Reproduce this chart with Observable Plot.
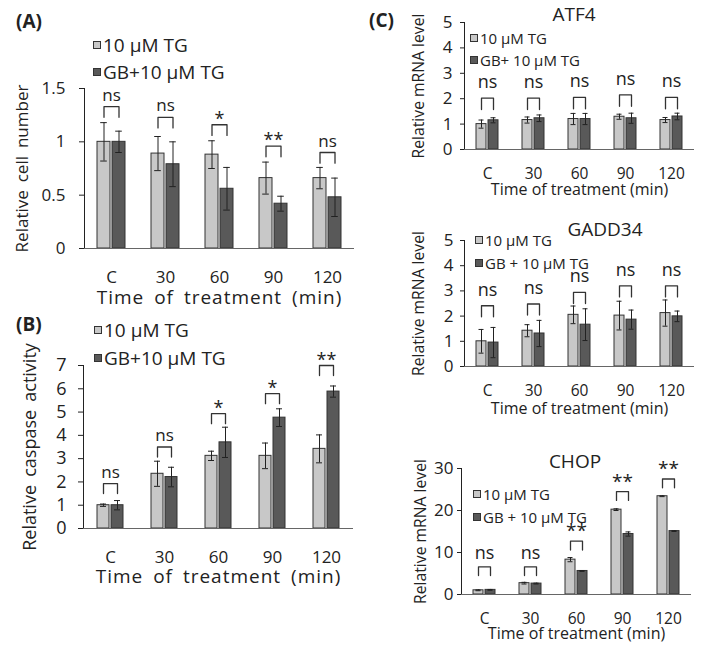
<!DOCTYPE html>
<html>
<head>
<meta charset="utf-8">
<script src="https://cdn.jsdelivr.net/npm/d3@7"></script>
<script src="https://cdn.jsdelivr.net/npm/@observablehq/plot@0.6"></script>
<style>
  body { margin: 0; background: #fff; }
  #fig { position: relative; width: 709px; height: 645px; background: #fff; font-family: 'Open Sans', sans-serif; color: #222; overflow: hidden; }
  .panel { position: absolute; }
  .panel svg { overflow: visible; }
  .txt { position: absolute; white-space: nowrap; line-height: 1.2; }
  .leg { position: absolute; display: flex; align-items: center; white-space: nowrap; line-height: 1.2; }
  .sw { display: inline-block; width: 8px; height: 8px; border: 1px solid #333; box-sizing: border-box; margin-right: 2px; }
  .pab g[aria-label="y-axis tick label"] text { font-size: 17px; }
  .pab g[aria-label="fx-axis tick label"] text { font-size: 17px; }
  .pab g[aria-label="fx-axis label"] text { font-size: 19px; letter-spacing: 1px; word-spacing: 4px; }
  #pA g[aria-label="y-axis label"] text { font-size: 17px; word-spacing: 3.5px; }
  #pB g[aria-label="y-axis label"] text { font-size: 18px; word-spacing: 3.5px; }
  #pB g[aria-label="y-axis tick label"] text { font-size: 18px; }
  .pc g[aria-label="y-axis tick label"] text { font-size: 17px; }
  .pc g[aria-label="fx-axis tick label"] text { font-size: 15.5px; }
  .pc g[aria-label="fx-axis label"] text { font-size: 16px; }
  .pc g[aria-label="y-axis label"] text { font-size: 15.7px; }
</style>
</head>
<body>
<div id="fig"></div>
<script>
// ---------- shared ----------
const times = ["C", "30", "60", "90", "120"];
const xTitle = "Time of treatment (min)";

// ---------- Panel A: relative cell number ----------
const seriesA = ["10 μM TG", "GB+10 μM TG"];
const tgA = [1.00, 0.89, 0.88, 0.66, 0.66];
const tgErrA = [0.18, 0.16, 0.13, 0.15, 0.10];
const gbA = [1.00, 0.79, 0.56, 0.42, 0.48];
const gbErrA = [0.10, 0.21, 0.20, 0.07, 0.18];
const sigA = ["ns", "ns", "*", "**", "ns"];
const bracketA = [1.33, 1.23, 1.16, 0.96, 0.90];
const yTicksA = [0, 0.5, 1, 1.5];

// ---------- Panel B: relative caspase activity ----------
const seriesB = ["10 μM TG", "GB+10 μM TG"];
const tgB = [1.00, 2.35, 3.12, 3.12, 3.42];
const tgErrB = [0.05, 0.54, 0.20, 0.55, 0.60];
const gbB = [1.00, 2.21, 3.70, 4.76, 5.88];
const gbErrB = [0.20, 0.42, 0.65, 0.38, 0.24];
const sigB = ["ns", "ns", "*", "*", "**"];
const bracketB = [1.93, 3.50, 4.93, 5.79, 7.00];
const yTicksB = [0, 1, 2, 3, 4, 5, 6, 7];

// ---------- Panel C1: ATF4 ----------
const seriesC1 = ["10 μM TG", "GB+ 10 μM TG"];
const tgC1 = [1.00, 1.16, 1.20, 1.29, 1.16];
const tgErrC1 = [0.16, 0.12, 0.22, 0.10, 0.10];
const gbC1 = [1.15, 1.23, 1.20, 1.23, 1.30];
const gbErrC1 = [0.10, 0.13, 0.22, 0.20, 0.13];
const sigC1 = ["ns", "ns", "ns", "ns", "ns"];
const bracketC1 = [2.02, 2.02, 2.05, 2.15, 2.05];
const yTicksC1 = [0, 1, 2, 3, 4, 5];

// ---------- Panel C2: GADD34 ----------
const seriesC2 = ["10 μM TG", "GB + 10 μM TG"];
const tgC2 = [1.00, 1.42, 2.05, 2.02, 2.12];
const tgErrC2 = [0.47, 0.24, 0.35, 0.57, 0.52];
const gbC2 = [0.95, 1.31, 1.66, 1.86, 1.99];
const gbErrC2 = [0.60, 0.52, 0.63, 0.38, 0.21];
const sigC2 = ["ns", "ns", "ns", "ns", "ns"];
const bracketC2 = [2.41, 2.48, 2.94, 3.20, 3.20];
const yTicksC2 = [0, 1, 2, 3, 4, 5];

// ---------- Panel C3: CHOP ----------
const seriesC3 = ["10 μM TG", "GB + 10 μM TG"];
const tgC3 = [1.0, 2.7, 8.3, 20.2, 23.4];
const tgErrC3 = [0.1, 0.2, 0.5, 0.2, 0.1];
const gbC3 = [1.1, 2.6, 5.6, 14.4, 15.1];
const gbErrC3 = [0.1, 0.1, 0.1, 0.5, 0.1];
const sigC3 = ["ns", "ns", "**", "**", "**"];
const bracketC3 = [6.6, 6.6, 12.7, 24.5, 27.5];
const yTicksC3 = [0, 10, 20, 30];

const fillColors = ["#c8c8c8", "#595959"];
const fig = document.getElementById("fig");

function addText(str, x, y, size, opts = {}) {
  const d = document.createElement("div");
  d.className = "txt";
  d.textContent = str;
  d.style.fontSize = size + "px";
  d.style.left = x + "px";
  d.style.top = (y - 0.63 * size) + "px";
  if (opts.weight) d.style.fontWeight = opts.weight;
  if (opts.center) d.style.transform = "translateX(-50%)";
  fig.appendChild(d);
}

function addLegend(series, x, ys, size) {
  series.forEach((s, i) => {
    const d = document.createElement("div");
    d.className = "leg";
    d.style.left = x + "px";
    d.style.top = (ys[i] - 0.6 * size) + "px";
    d.style.fontSize = size + "px";
    const sw = document.createElement("span");
    sw.className = "sw";
    sw.style.background = fillColors[i];
    d.appendChild(sw);
    d.appendChild(document.createTextNode(s));
    fig.appendChild(d);
  });
}

function panel(o) {
  const rows = [];
  times.forEach((t, i) => {
    rows.push({time: t, series: o.series[0], value: o.v0[i], err: o.e0[i]});
    rows.push({time: t, series: o.series[1], value: o.v1[i], err: o.e1[i]});
  });
  const br = [];
  times.forEach((t, i) => {
    const top = o.bracket[i], low = top - o.leg;
    br.push({time: t, series: o.series[0], y: low});
    br.push({time: t, series: o.series[0], y: top});
    br.push({time: t, series: o.series[1], y: top});
    br.push({time: t, series: o.series[1], y: low});
  });
  const sig = times.map((t, i) => ({time: t, y: o.bracket[i], label: o.sig[i]}));
  const chart = Plot.plot({
    width: o.width, height: o.height,
    marginLeft: o.mL, marginRight: o.mR, marginTop: o.mT, marginBottom: o.mB,
    style: {fontFamily: "'Open Sans', sans-serif", fontSize: "17px", color: "#222", background: "transparent", overflow: "visible"},
    fx: {domain: times, padding: 0, axis: "bottom", tickSize: 0, tickPadding: o.fxPad,
         label: xTitle, labelAnchor: "center", labelOffset: o.fxLabelOffset, labelArrow: "none"},
    x: {domain: o.series, axis: null, paddingInner: o.pi, paddingOuter: o.po},
    y: {domain: o.yDomain, ticks: o.yTicks, tickFormat: d => String(d), tickSize: o.tickSize, tickPadding: o.tickPadding,
        line: true, label: o.yLabel, labelAnchor: "center", labelOffset: o.yLabelOffset, labelArrow: "none"},
    color: {domain: o.series, range: fillColors},
    marks: [
      Plot.barY(rows, {fx: "time", x: "series", y: "value", fill: "series", stroke: "#333", strokeWidth: 1}),
      Plot.ruleY([0], {stroke: "#666"}),
      Plot.ruleX(rows, {fx: "time", x: "series", y1: d => d.value - d.err, y2: d => d.value + d.err, stroke: "#222", strokeWidth: 1}),
      Plot.tickY(rows, {fx: "time", x: "series", y: d => d.value + d.err, stroke: "#222", insetLeft: o.cap, insetRight: o.cap}),
      Plot.tickY(rows, {fx: "time", x: "series", y: d => d.value - d.err, stroke: "#222", insetLeft: o.cap, insetRight: o.cap}),
      Plot.line(br, {fx: "time", x: "series", y: "y", z: "time", stroke: "#333", strokeWidth: 1.3, strokeLinejoin: "round"}),
      Plot.text(sig.filter(d => d.label === "ns"), {fx: "time", y: "y", text: "label", lineAnchor: "bottom", dy: o.nsDy, fontSize: o.sigSize, fill: "#222"}),
      Plot.text(sig.filter(d => d.label !== "ns"), {fx: "time", y: "y", text: "label", lineAnchor: "bottom", dy: o.starDy, fontSize: o.sigSize + 1, fill: "#222"})
    ]
  });
  const holder = document.createElement("div");
  holder.className = "panel " + o.cls;
  holder.id = o.id;
  holder.style.left = o.left + "px";
  holder.style.top = o.top + "px";
  holder.style.width = o.width + "px";
  holder.style.height = o.height + "px";
  holder.appendChild(chart);
  fig.appendChild(holder);
}

panel({id: "pA", cls: "pab", left: 0, top: 0, width: 360, height: 312, mL: 84, mR: 6, mT: 88, mB: 64,
  series: seriesA, v0: tgA, e0: tgErrA, v1: gbA, e1: gbErrA, sig: sigA, bracket: bracketA, leg: 0.1,
  yDomain: [0, 1.5], yTicks: yTicksA, tickSize: 5, tickPadding: 14, yLabel: "Relative cell number", yLabelOffset: 69,
  fxPad: 22, fxLabelOffset: 55, pi: 0.13, po: 0.86, cap: 3.2, sigSize: 17, nsDy: -6, starDy: 0});

panel({id: "pB", cls: "pab", left: 0, top: 312, width: 360, height: 333, mL: 82, mR: 7, mT: 53, mB: 117,
  series: seriesB, v0: tgB, e0: tgErrB, v1: gbB, e1: gbErrB, sig: sigB, bracket: bracketB, leg: 0.43,
  yDomain: [0, 7], yTicks: yTicksB, tickSize: 5, tickPadding: 12, yLabel: "Relative caspase activity", yLabelOffset: 60,
  fxPad: 22, fxLabelOffset: 54, pi: 0.15, po: 0.9, cap: 3, sigSize: 17, nsDy: -6, starDy: 0});

panel({id: "pC1", cls: "pc", left: 360, top: 0, width: 349, height: 200, mL: 102, mR: 14, mT: 22, mB: 51,
  series: seriesC1, v0: tgC1, e0: tgErrC1, v1: gbC1, e1: gbErrC1, sig: sigC1, bracket: bracketC1, leg: 0.45,
  yDomain: [0, 5], yTicks: yTicksC1, tickSize: 4, tickPadding: 8, yLabel: "Relative mRNA level", yLabelOffset: 52,
  fxPad: 18, fxLabelOffset: 45, pi: 0.15, po: 0.9, cap: 2.5, sigSize: 18, nsDy: -10, starDy: -4});

panel({id: "pC2", cls: "pc", left: 360, top: 200, width: 349, height: 215, mL: 102, mR: 14, mT: 40, mB: 49,
  series: seriesC2, v0: tgC2, e0: tgErrC2, v1: gbC2, e1: gbErrC2, sig: sigC2, bracket: bracketC2, leg: 0.44,
  yDomain: [0, 5], yTicks: yTicksC2, tickSize: 4, tickPadding: 7, yLabel: "Relative mRNA level", yLabelOffset: 52,
  fxPad: 18, fxLabelOffset: 47, pi: 0.15, po: 0.9, cap: 2.5, sigSize: 18, nsDy: -10, starDy: -4});

panel({id: "pC3", cls: "pc", left: 360, top: 415, width: 349, height: 230, mL: 99, mR: 16, mT: 53, mB: 51,
  series: seriesC3, v0: tgC3, e0: tgErrC3, v1: gbC3, e1: gbErrC3, sig: sigC3, bracket: bracketC3, leg: 2.1,
  yDomain: [0, 30], yTicks: yTicksC3, tickSize: 4, tickPadding: 4, yLabel: "Relative mRNA level", yLabelOffset: 47,
  fxPad: 18, fxLabelOffset: 44, pi: 0.15, po: 0.9, cap: 2.5, sigSize: 18, nsDy: -8, starDy: -4});

// panel letters and titles
addText("(A)", 16, 22, 19, {weight: 700});
addText("(B)", 16, 325, 19, {weight: 700});
addText("(C)", 369, 21, 19, {weight: 700});
addText("ATF4", 574, 15, 19, {center: true});
addText("GADD34", 605, 230, 19, {center: true});
addText("CHOP", 575, 462, 19, {center: true});

// legends
addLegend(seriesA, 93, [45, 72], 19);
addLegend(seriesB, 94, [330, 358], 19);
addLegend(seriesC1, 470, [38, 60], 15);
addLegend(seriesC2, 475, [240, 263], 15);
addLegend(seriesC3, 473, [494, 517], 15);
</script>
</body>
</html>
